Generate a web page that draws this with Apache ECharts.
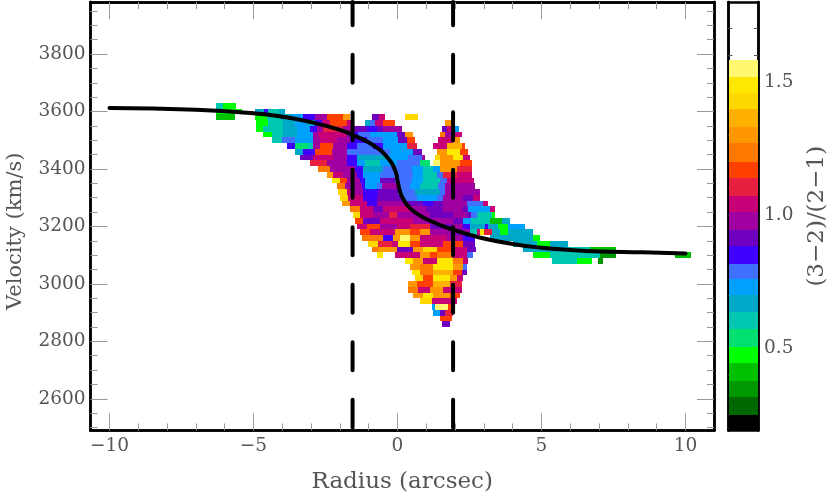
<!DOCTYPE html>
<html><head><meta charset="utf-8">
<style>html,body{margin:0;padding:0;background:#fff}#c{width:830px;height:493px}</style>
<script src="https://cdn.jsdelivr.net/npm/echarts@6/dist/echarts.min.js"></script>
</head><body><div id="c"></div>
<script>
const radiusMajorTicks = [-10,-5,0,5,10];
const radiusMinorTicks = [-9,-8,-7,-6,-4,-3,-2,-1,1,2,3,4,6,7,8,9];
const velocityMajorTicks = [2600,2800,3000,3200,3400,3600,3800];
const velocityMinorTicks = [2500,2550,2650,2700,2750,2850,2900,2950,3050,3100,3150,3250,3300,3350,3450,3500,3550,3650,3700,3750,3850,3900,3950];
const ratioMajorTicks = [0.5,1.0,1.5];
const ratioMinorTicks = [0.2,0.3,0.4,0.6,0.7,0.8,0.9,1.1,1.2,1.3,1.4,1.6,1.7];

const levelEdges = [0.192,0.250,0.317,0.377,0.445,0.505,0.572,0.636,0.700,0.762,0.816,0.884,0.945,1.011,1.071,1.139,1.199,1.270,1.330,1.396,1.458,1.518,1.580];
const levelColors = ['#000000','#006800','#009800','#00c000','#00ff00','#00e070','#00c8b0','#00a8c8','#00a0ff','#4070ff','#4000ff','#7000c0','#a000a0','#c80078','#e82040','#ff4000','#ff7800','#ff9800','#ffb000','#ffd800','#ffe800','#fff870'];

const rowVelocity = [3620,3600,3580,3560,3540,3520,3500,3480,3460,3440,3420,3400,3380,3360,3340,3320,3300,3280,3260,3240,3220,3200,3180,3160,3140,3120,3100,3080,3060,3040,3020,3000,2980,2960,2940,2920,2900,2880,2860];
// each row: start, ratio, next radius, ratio, ..., end radius (null ratio = empty)
const rowRuns = [
[-6.3,.6,-6.05,.475,-5.6],
[-6.3,.475,-5.4,null,-4.95,.665,-4.65,.85,-4.5,.6,-4.1,.665,-3.9],
[-6.3,.41,-5.64,null,-4.95,.475,-4.54,.6,-4.08,.665,-3.7,.73,-3.27,.85,-2.86,.98,-2.46,1.17,-1.88,1.3,-1.65,null,-.9,.915,-.65,1.04,-.44,null,.26,1.43,.72],
[-4.91,.475,-4.49,.6,-3.96,.665,-3.55,.73,-3.15,.665,-2.86,.85,-2.63,1.04,-2.34,1.17,-1.76,1.04,-1.5,null,-1.13,.665,-.96,.79,-.78,1.04,-.49,1.17,-.09,null,1.65,1.3,1.88],
[-4.91,.475,-4.66,.6,-3.96,.665,-3.5,.73,-3.04,.85,-2.81,.98,-2.58,1.105,-1.88,.98,-1.53,.915,-1.07,.85,-.72,.915,-.49,.98,.14,null,1.53,.915,1.71,1.04,2.0,.73,2.15],
[-4.66,.475,-4.37,.6,-3.96,.665,-3.5,.73,-2.95,.98,-2.75,1.04,-1.76,.915,-1.65,.85,-1.36,.79,-.96,.73,-.03,.915,.26,1.3,.55,null,1.47,1.235,1.65,.98,2.0,1.04,2.23],
[-4.37,.6,-4.02,.79,-3.56,.73,-2.92,.98,-2.69,1.04,-2.11,.98,-1.65,.85,-1.07,.79,-.49,.73,.03,.915,.32,1.17,.61,null,1.42,1.04,1.94,1.3,2.17],
[-3.83,.85,-3.56,.54,-3.1,.6,-2.92,.98,-2.69,1.17,-2.23,.98,-1.76,.85,-1.42,.79,-.84,.85,-.49,.73,.32,1.105,.67,null,1.24,1.04,1.71,1.365,2.23,1.17,2.35],
[-3.56,.665,-3.27,.85,-2.86,1.17,-2.29,.98,-1.76,.79,-.26,.73,.55,.915,.84,null,1.36,1.3,1.71,1.49,2.17,1.17,2.46],
[-3.39,.915,-2.92,1.04,-2.23,.98,-1.76,.85,-1.42,.665,-.38,.73,.38,.79,.84,.98,.95,null,1.3,1.43,1.47,1.3,1.94,1.49,2.29,1.04,2.52],
[-3.04,1.105,-2.46,.98,-1.76,.85,-1.42,.73,-1.13,.6,-.61,.73,-.03,.79,.78,.54,1.13,null,1.24,1.55,1.47,1.3,2.17,1.17,2.57],
[-2.75,1.235,-2.34,.98,-1.47,.85,-1.19,.665,-.49,.79,.49,.73,.9,.6,1.24,.73,1.47,1.3,2.05,1.105,2.6],
[-2.46,1.3,-2.23,1.04,-1.9,.98,-1.42,.85,-1.19,.73,-.61,.79,.55,.73,.9,.6,1.36,.79,1.59,1.105,2.05,1.04,2.6],
[-2.29,1.49,-2,1.17,-1.76,.98,-1.3,.85,-1.13,.73,-.61,.915,-.09,.79,.49,.73,.9,.6,1.47,.79,1.71,1.04,2.65],
[-2.11,1.235,-1.82,.98,-1.24,.85,-1.13,.73,-.72,.79,-.55,.98,.03,.79,.43,.73,.78,.6,1.42,.79,1.65,.98,2.7],
[-2.05,1.43,-1.76,1.04,-1.53,.98,-1.19,.85,-.67,.915,.03,.79,.61,.665,1.47,.79,1.65,.98,2.85],
[-2,1.43,-1.71,1.04,-1.19,.85,-.72,.915,.15,.79,.67,.73,1.36,.79,1.59,.98,2.29,.915,2.63,1.04,2.85],
[-1.94,1.3,-1.65,1.04,-1.07,.85,-.72,.98,.26,.915,.9,.85,1.24,.915,1.59,.98,2.4,.79,2.98,1.04,3.15],
[-1.65,1.235,-1.3,1.04,-.84,.915,-.49,1.04,.43,.98,1.0,.915,1.59,.98,2.29,.915,2.46,.73,3.21,1.04,3.38],
[-1.53,1.43,-1.3,1.04,-.84,.98,-.3,1.105,0,.98,1.13,.915,1.94,.98,2.4,.915,2.55,.79,2.75,.6,3.27,.475,3.39],
[-1.48,1.17,-1.19,.915,-.61,1.04,.55,.98,1.94,.915,2.29,.73,2.55,.6,3.21,.41,3.62,.665,3.9],
[-1.42,1.04,-1.07,1.17,-.61,.98,-.03,1.04,.43,1.105,1.13,.915,1.94,.98,2.29,.85,2.52,.665,3.04,.85,3.15,.665,3.5,.475,3.85,.73,4.43],
[-1.3,1.17,-.95,1.04,-.1,1.3,.43,1.17,.78,1.3,1.13,.98,1.82,.915,2.29,.98,2.52,.6,2.75,1.04,2.86,1.49,3.0,1.105,3.27,.665,3.56,.475,3.85,.665,4.72],
[-1.24,1.235,-.49,.85,-.14,1.3,.09,1.55,.43,1.3,.78,1.04,1.71,.98,2.29,.85,2.69,null,3.2,.665,4.72,.475,4.95],
[-1.01,1.43,-.66,1.105,-.2,1.04,.03,1.49,.43,1.17,.78,1.04,1.59,1.17,2.29,.915,2.69,null,4.02,.665,4.83,.475,5.3,.665,5.93],
[-.9,1.235,-.66,1.3,-.03,.915,.55,1.3,.9,1.43,1.36,1.17,1.94,1.04,2.4,.915,2.72,null,4.37,.665,5.99,.6,6.68,.41,7.6],
[-.72,1.49,-.49,null,-.1,1.04,.78,1.3,1.13,1.17,1.36,1.235,1.88,1.04,2.4,.79,2.63,null,4.72,.475,5.3,.6,7.03,.345,7.6,null,9.63,.41,10.2],
[.26,1.49,.55,1.3,.9,1.04,1.36,1.49,1.94,1.235,2.29,1.04,2.46,null,5.35,.6,6.22,.475,6.74,null,6.97,.345,7.15],
[.43,1.3,.78,1.235,1.24,1.49,1.94,1.3,2.29,.79,2.4],
[.49,1.49,.78,1.235,1.24,1.365,1.94,1.17,2.23,.915,2.4],
[.61,1.43,.9,1.17,1.24,1.49,1.82,1.3,2.05,1.04,2.29],
[.38,1.3,.67,1.17,1.24,1.365,1.82,1.105,2.23],
[.38,1.235,.72,1.04,1.13,1.3,1.59,1.04,2.23],
[.55,1.3,.9,1.49,1.24,1.3,1.82,1.17,2.17],
[.78,1.43,1.19,1.04,2.05],
[1.19,.73,1.3,1.55,1.76,1.17,1.94],
[1.24,.73,1.48,.915,1.65,1.105,1.94],
[1.48,1.17,1.88],
[1.53,.915,1.82]
];
const rowHalfHeight = 10;

const curveRadius   = [-10,-7,-5,-4,-3,-2,-1.4,-.8,-.35,-.08,.02,.15,.45,1,2,3,4,5,6,7,8.5,10];
const curveVelocity = [3612,3606,3594,3582,3563,3536,3512,3480,3440,3395,3350,3305,3262,3226,3186,3158,3139,3126,3118,3113,3110,3106];

const dashRadius = [-1.56, 1.93];
const xLim = [-10.66, 10.99];
const yLim = [2489.7, 3981.3];
const cLim = [0.192, 1.799];

function colorOf(r){
  for(let i=0;i<levelColors.length;i++) if(r>=levelEdges[i]&&r<levelEdges[i+1]) return levelColors[i];
  return '#ffffff';
}
const cells=[];
rowRuns.forEach((row,i)=>{
  const v=rowVelocity[i];
  for(let k=0;k+2<row.length;k+=2){
    if(row[k+1]==null) continue;
    cells.push([row[k],row[k+2],v-rowHalfHeight,v+rowHalfHeight,row[k+1]]);
  }
});
const barCells=levelColors.map((c,i)=>[0,1,levelEdges[i],levelEdges[i+1],(levelEdges[i]+levelEdges[i+1])/2]);

function rectItem(params,api){
  const a=api.coord([api.value(0),api.value(2)]);
  const b=api.coord([api.value(1),api.value(3)]);
  const x=Math.round(a[0]),x2=Math.round(b[0]),y=Math.round(b[1]),y2=Math.round(a[1]);
  return {type:'rect',shape:{x:x,y:y,width:x2-x,height:y2-y},style:{fill:colorOf(api.value(4))}};
}

const FONT='"DejaVu Serif"';
const TXT='#555';
const frame={show:true,onZero:false,lineStyle:{color:'#000',width:2.5}};
const tickStyle={color:'#999',width:1};
function xAx(pos,values,len,labels,extra){
  return Object.assign({type:'value',gridIndex:0,position:pos,min:xLim[0],max:xLim[1],splitLine:{show:false},axisLine:frame,
    axisTick:{show:true,inside:true,length:len,lineStyle:tickStyle,customValues:values},
    axisLabel:labels?{show:true,customValues:values,fontFamily:FONT,fontSize:18.5,color:TXT,margin:6,
      formatter:v=>String(v).replace('-','\u2212')}:{show:false}},extra||{});
}
function yAx(pos,values,len,labels,extra){
  return Object.assign({type:'value',gridIndex:0,position:pos,min:yLim[0],max:yLim[1],splitLine:{show:false},axisLine:frame,
    axisTick:{show:true,inside:true,length:len,lineStyle:tickStyle,customValues:values},
    axisLabel:labels?{show:true,customValues:values,fontFamily:FONT,fontSize:18.5,color:TXT,margin:5,formatter:v=>String(v)}:{show:false}},extra||{});
}
function cAx(pos,values,len,labels,extra){
  return Object.assign({type:'value',gridIndex:1,position:pos,min:cLim[0],max:cLim[1],splitLine:{show:false},axisLine:frame,
    axisTick:{show:true,inside:true,length:len,lineStyle:{color:'#555',width:1},customValues:values},
    axisLabel:labels?{show:true,customValues:values,fontFamily:FONT,fontSize:18.5,color:TXT,margin:6,formatter:v=>v.toFixed(1)}:{show:false}},extra||{});
}

const chart=echarts.init(document.getElementById('c'),null,{renderer:'canvas'});
chart.setOption({
  animation:false,
  backgroundColor:'#fff',
  grid:[
    {left:90.5,right:116,top:2,bottom:62.5,containLabel:false,outerBoundsMode:'none'},
    {left:728.5,right:72,top:2,bottom:62.5,containLabel:false,outerBoundsMode:'none'}
  ],
  xAxis:[
    xAx('bottom',radiusMajorTicks,17,true,{name:'Radius (arcsec)',nameLocation:'middle',nameGap:40,nameTextStyle:{fontFamily:FONT,fontSize:23,color:TXT}}),
    xAx('bottom',radiusMinorTicks,7,false),
    xAx('top',radiusMajorTicks,17,false),
    xAx('top',radiusMinorTicks,7,false),
    {type:'value',gridIndex:1,position:'bottom',min:0,max:1,axisLine:frame,axisTick:{show:false},axisLabel:{show:false},splitLine:{show:false}},
    {type:'value',gridIndex:1,position:'top',min:0,max:1,axisLine:frame,axisTick:{show:false},axisLabel:{show:false},splitLine:{show:false}}
  ],
  yAxis:[
    yAx('left',velocityMajorTicks,17,true,{name:'Velocity (km/s)',nameLocation:'middle',nameGap:64,nameRotate:90,nameTextStyle:{fontFamily:FONT,fontSize:21,color:TXT,padding:[0,30,0,0]}}),
    yAx('left',velocityMinorTicks,7,false),
    yAx('right',velocityMajorTicks,17,false),
    yAx('right',velocityMinorTicks,7,false),
    cAx('left',ratioMajorTicks,7,false),
    cAx('left',ratioMinorTicks,4,false),
    cAx('right',ratioMajorTicks,7,true,{name:'(3\u22122)/(2\u22121)',nameLocation:'middle',nameGap:48,nameRotate:90,nameTextStyle:{fontFamily:FONT,fontSize:23,color:TXT}}),
    cAx('right',ratioMinorTicks,4,false)
  ],
  series:[
    {type:'custom',coordinateSystem:'cartesian2d',xAxisIndex:0,yAxisIndex:0,renderItem:rectItem,data:cells,encode:{x:[0,1],y:[2,3]},silent:true,z:1},
    {type:'custom',coordinateSystem:'cartesian2d',xAxisIndex:4,yAxisIndex:4,renderItem:rectItem,data:barCells,encode:{x:[0,1],y:[2,3]},silent:true,z:1},
    {type:'line',xAxisIndex:0,yAxisIndex:0,data:curveRadius.map((r,i)=>[r,curveVelocity[i]]),smooth:0.5,showSymbol:false,symbol:'none',lineStyle:{color:'#000',width:4,cap:'round',join:'round'},z:5,silent:true},
    ...dashRadius.map(r=>({type:'line',xAxisIndex:0,yAxisIndex:0,data:[[r,2499],[r,3981]],showSymbol:false,symbol:'none',
      lineStyle:{color:'#000',width:4,type:[28,29.5],cap:'round'},z:4,silent:true}))
  ]
});
</script></body></html>
